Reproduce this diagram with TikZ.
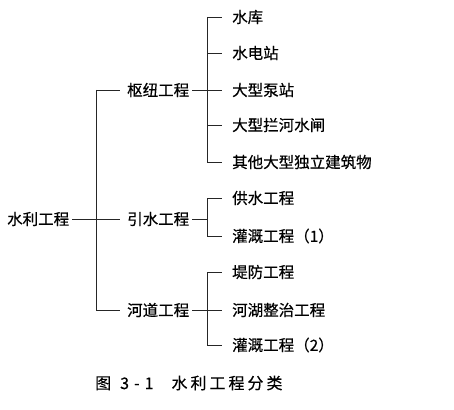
\documentclass[tikz,border=0pt]{standalone}
\usepackage{fontspec}
\setmainfont{Noto Sans CJK SC}[FakeBold=0.4]
\tikzset{
  lbl/.style={anchor=west, inner sep=0pt, font=\fontsize{15.5}{16}\selectfont},
  conn/.style={line width=0.9pt, black!85},
}
\begin{document}
\begin{tikzpicture}[x=1pt,y=-1pt]
\useasboundingbox (0,0) rectangle (454,409);
% root and middle level
\node[lbl] (root) at (7,219) {水利工程};
\node[lbl] (a) at (127,90) {枢纽工程};
\node[lbl] (b) at (127,219) {引水工程};
\node[lbl] (c) at (127,310) {河道工程};
% leaves
\node[lbl] (a1) at (232,17) {水库};
\node[lbl] (a2) at (232,53) {水电站};
\node[lbl] (a3) at (232,90) {大型泵站};
\node[lbl] (a4) at (232,125) {大型拦河水闸};
\node[lbl] (a5) at (232,162) {其他大型独立建筑物};
\node[lbl] (b1) at (232,198) {供水工程};
\node[lbl] (b2) at (232,236) {灌溉工程（1）};
\node[lbl] (c1) at (232,272) {堤防工程};
\node[lbl] (c2) at (232,310) {河湖整治工程};
\node[lbl] (c3) at (232,345) {灌溉工程（2）};
% caption
\node[lbl, font=\fontsize{16}{17}\selectfont] (cap) at (95,383)
  {图\hspace{9pt}3\hspace{5pt}-\hspace{5pt}1\hspace{18pt}水\hspace{3pt}利\hspace{3pt}工\hspace{3pt}程\hspace{3pt}分\hspace{3pt}类};
% junction coordinates
\coordinate (j0t) at (96,90);
\coordinate (j0b) at (96,310);
\coordinate (jat) at (207,17);
\coordinate (jab) at (207,162);
\coordinate (jbt) at (207,198);
\coordinate (jbb) at (207,236);
\coordinate (jct) at (207,272);
\coordinate (jcb) at (207,345);
% root connectors
\draw[conn, shorten <=3pt, shorten >=7pt] (root.east) -- (b.west);
\draw[conn] (j0t) -- (j0b);
\draw[conn, shorten >=7pt] (j0t) -- (a.west);
\draw[conn, shorten >=7pt] (j0b) -- (c.west);
% group a
\draw[conn, shorten <=3pt, shorten >=10pt] (a.east) -- (a3.west);
\draw[conn] (jat) -- (jab);
\foreach \n in {a1,a2,a4,a5} \draw[conn, shorten >=10pt] (jat |- \n.west) -- (\n.west);
% group b
\draw[conn, shorten <=3pt] (b.east) -- (b.east -| jbt);
\draw[conn] (jbt) -- (jbb);
\foreach \n in {b1,b2} \draw[conn, shorten >=10pt] (jbt |- \n.west) -- (\n.west);
% group c
\draw[conn, shorten <=3pt, shorten >=10pt] (c.east) -- (c2.west);
\draw[conn] (jct) -- (jcb);
\foreach \n in {c1,c3} \draw[conn, shorten >=10pt] (jct |- \n.west) -- (\n.west);
\end{tikzpicture}
\end{document}
